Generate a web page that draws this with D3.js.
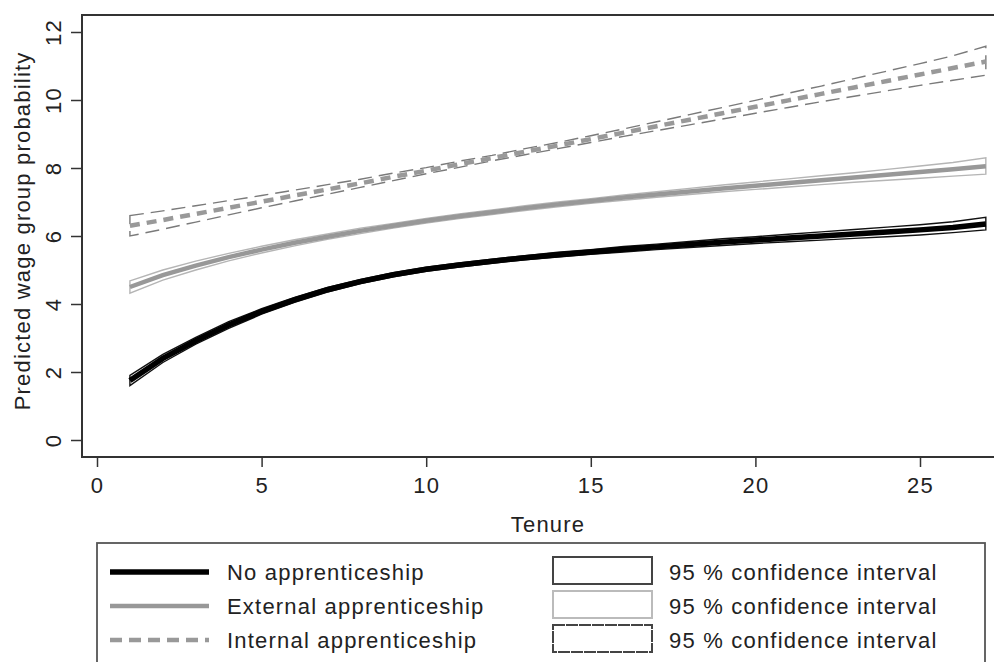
<!DOCTYPE html>
<html>
<head>
<meta charset="utf-8">
<script src="https://cdn.jsdelivr.net/npm/d3@7"></script>
<style>
  html, body { margin: 0; padding: 0; background: #fff; }
  svg { display: block; }
  text { font-family: "Liberation Sans", Arial, Helvetica, sans-serif; fill: #222; letter-spacing: 1.2px; }
</style>
</head>
<body>
<svg id="chart" width="994" height="662"></svg>
<script>
const tenure = [1,2,3,4,5,6,7,8,9,10,11,12,13,14,15,16,17,18,19,20,21,22,23,24,25,26,27];

const noApp   = [1.75,2.40,2.92,3.38,3.78,4.12,4.42,4.66,4.86,5.02,5.15,5.26,5.36,5.45,5.53,5.61,5.68,5.75,5.82,5.88,5.94,6.00,6.06,6.12,6.18,6.25,6.35];
const noAppLo = [1.60,2.28,2.82,3.28,3.70,4.05,4.35,4.60,4.80,4.96,5.09,5.20,5.30,5.38,5.46,5.53,5.60,5.66,5.72,5.78,5.83,5.88,5.93,5.98,6.03,6.10,6.18];
const noAppHi = [1.90,2.52,3.02,3.48,3.86,4.19,4.49,4.72,4.92,5.08,5.21,5.32,5.42,5.52,5.60,5.69,5.76,5.84,5.92,5.98,6.05,6.12,6.19,6.26,6.33,6.42,6.55];

const extApp   = [4.50,4.85,5.13,5.38,5.60,5.80,5.98,6.15,6.30,6.45,6.58,6.70,6.82,6.93,7.03,7.13,7.22,7.31,7.40,7.48,7.56,7.64,7.72,7.80,7.88,7.96,8.05];
const extAppLo = [4.32,4.70,5.00,5.27,5.50,5.71,5.90,6.07,6.23,6.38,6.51,6.63,6.75,6.86,6.96,7.05,7.14,7.22,7.30,7.37,7.44,7.51,7.58,7.64,7.70,7.76,7.82];
const extAppHi = [4.68,5.00,5.26,5.49,5.70,5.89,6.06,6.23,6.37,6.52,6.65,6.77,6.89,7.00,7.10,7.21,7.30,7.40,7.50,7.59,7.68,7.77,7.86,7.96,8.06,8.16,8.30];

const intApp   = [6.30,6.47,6.65,6.83,7.01,7.19,7.37,7.55,7.74,7.92,8.11,8.29,8.48,8.66,8.85,9.04,9.23,9.42,9.61,9.80,9.99,10.18,10.37,10.56,10.75,10.94,11.13];
const intAppLo = [6.00,6.20,6.41,6.62,6.83,7.03,7.23,7.43,7.63,7.83,8.02,8.21,8.39,8.57,8.75,8.93,9.10,9.27,9.44,9.61,9.78,9.95,10.11,10.27,10.43,10.58,10.73];
const intAppHi = [6.60,6.74,6.89,7.04,7.19,7.35,7.51,7.67,7.85,8.01,8.20,8.37,8.57,8.75,8.95,9.15,9.36,9.57,9.78,9.99,10.20,10.41,10.63,10.85,11.07,11.30,11.58];

const xTicks = [0,5,10,15,20,25];
const yTicks = [0,2,4,6,8,10,12];
const seriesNames = ["No apprenticeship","External apprenticeship","Internal apprenticeship"];
const ciLabels = ["95 % confidence interval","95 % confidence interval","95 % confidence interval"];
const xTitle = "Tenure";
const yTitle = "Predicted wage group probability";

const svg = d3.select("#chart");
const FS = 22;

const x = d3.scaleLinear().domain([0, 25]).range([97, 920]);
const y = d3.scaleLinear().domain([-0.5, 12.5]).range([457, 15]);
const plotLeft = 82, plotTop = 15, plotBottom = 457, plotRight = 1010;

// plot frame
svg.append("path")
  .attr("d", `M${plotRight},${plotTop} H${plotLeft} V${plotBottom} H${plotRight}`)
  .attr("fill", "none").attr("stroke", "#333").attr("stroke-width", 2);

// y axis
const yAxis = d3.axisLeft(y).tickValues(yTicks).tickSize(11).tickFormat(d3.format("d"));
const gy = svg.append("g").attr("transform", `translate(${plotLeft},0)`).call(yAxis);
gy.select(".domain").remove();
gy.selectAll(".tick line").attr("stroke", "#333").attr("stroke-width", 1.5);
gy.selectAll(".tick text")
  .attr("font-size", FS).attr("fill", "#222")
  .attr("text-anchor", "middle")
  .attr("x", 0).attr("dy", 0)
  .attr("transform", "translate(-29,0) rotate(-90)")
  .attr("dominant-baseline", "central");

// x axis
const xAxis = d3.axisBottom(x).tickValues(xTicks).tickSize(10).tickFormat(d3.format("d"));
const gx = svg.append("g").attr("transform", `translate(0,${plotBottom})`).call(xAxis);
gx.select(".domain").remove();
gx.selectAll(".tick line").attr("stroke", "#333").attr("stroke-width", 1.5);
gx.selectAll(".tick text").attr("font-size", FS).attr("fill", "#222").attr("y", 36).attr("dy", 0);

// axis titles
svg.append("text").attr("x", x(13.7)).attr("y", 532).attr("text-anchor", "middle")
  .attr("font-size", FS).text(xTitle);
svg.append("text").attr("transform", `translate(30,${y(6.15)}) rotate(-90)`)
  .attr("text-anchor", "middle").attr("font-size", FS).text(yTitle);

// clip
svg.append("clipPath").attr("id", "clip").append("rect")
  .attr("x", plotLeft).attr("y", plotTop).attr("width", plotRight - plotLeft).attr("height", plotBottom - plotTop);
const plot = svg.append("g").attr("clip-path", "url(#clip)");

const area = (lo, hi) => d3.area().x((d, i) => x(tenure[i])).y0((d, i) => y(lo[i])).y1((d, i) => y(hi[i]))(tenure);
const line = (v) => d3.line().x((d, i) => x(tenure[i])).y((d, i) => y(v[i]))(tenure);

const styles = [
  { mid: noApp, lo: noAppLo, hi: noAppHi, lineColor: "#000", lineW: 5.5, dash: null, legDash: null, ciColor: "#111", ciW: 1.4, ciDash: null },
  { mid: extApp, lo: extAppLo, hi: extAppHi, lineColor: "#989898", lineW: 4.5, dash: null, legDash: null, ciColor: "#b5b5b5", ciW: 1.4, ciDash: null },
  { mid: intApp, lo: intAppLo, hi: intAppHi, lineColor: "#999", lineW: 4.5, dash: "10,7", legDash: "12,7", ciColor: "#7a7a7a", ciW: 1.4, ciDash: "14,7" }
];

styles.forEach(s => {
  plot.append("path").attr("d", area(s.lo, s.hi))
    .attr("fill", "none").attr("stroke", s.ciColor).attr("stroke-width", s.ciW)
    .attr("stroke-dasharray", s.ciDash);
  plot.append("path").attr("d", line(s.mid))
    .attr("fill", "none").attr("stroke", s.lineColor).attr("stroke-width", s.lineW)
    .attr("stroke-dasharray", s.dash);
});

// legend
const lg = svg.append("g");
lg.append("rect").attr("x", 97).attr("y", 543).attr("width", 888).attr("height", 140)
  .attr("fill", "#fff").attr("stroke", "#555").attr("stroke-width", 1.8);
const rowY = [572, 606, 640];
styles.forEach((s, i) => {
  lg.append("line").attr("x1", 110).attr("x2", 209).attr("y1", rowY[i]).attr("y2", rowY[i])
    .attr("stroke", s.lineColor).attr("stroke-width", s.lineW).attr("stroke-dasharray", s.legDash);
  lg.append("text").attr("x", 227).attr("y", rowY[i]).attr("dy", "0.35em").attr("font-size", FS).text(seriesNames[i]);
  lg.append("rect").attr("x", 553).attr("y", rowY[i] - 15).attr("width", 99).attr("height", 27)
    .attr("fill", "#fff").attr("stroke", i === 1 ? "#bbb" : "#444").attr("stroke-width", 2)
    .attr("stroke-dasharray", i === 2 ? "12,1" : null);
  lg.append("text").attr("x", 669).attr("y", rowY[i]).attr("dy", "0.35em").attr("font-size", FS).text(ciLabels[i]);
});
</script>
</body>
</html>
